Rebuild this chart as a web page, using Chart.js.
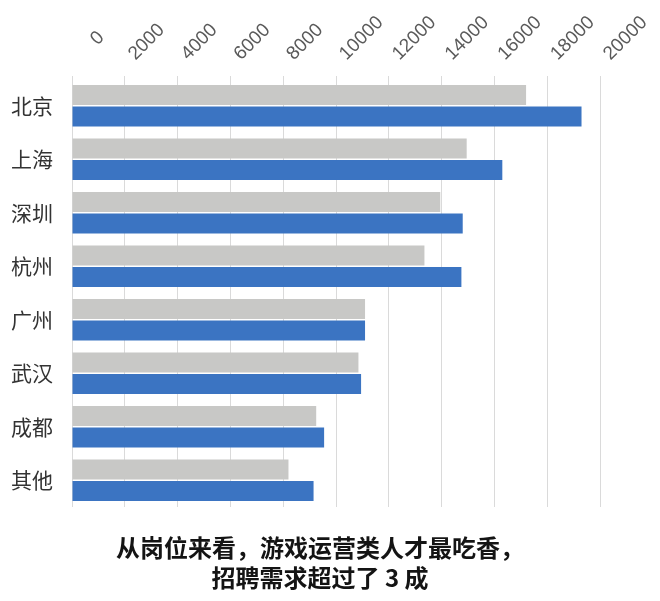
<!DOCTYPE html>
<html>
<head>
<meta charset="utf-8">
<script src="https://cdn.jsdelivr.net/npm/chart.js@4"></script>
<style>
	html, body { margin: 0; padding: 0; background: #fff; }
	#wrap { width: 660px; height: 601px; }
</style>
</head>
<body>
<div id="wrap"><canvas id="city-chart" width="660" height="601"></canvas></div>
<script>
const cities = ['北京', '上海', '深圳', '杭州', '广州', '武汉', '成都', '其他'];
const greySeries = [17200, 14950, 13950, 13350, 11100, 10850, 9250, 8200];
const blueSeries = [19300, 16300, 14800, 14750, 11100, 10950, 9550, 9150];
const tickValues = [0, 2000, 4000, 6000, 8000, 10000, 12000, 14000, 16000, 18000, 20000];
const titleLines = ['从岗位来看，游戏运营类人才最吃香，', '招聘需求超过了 3 成'];

const greyColor = '#c8c8c6';
const blueColor = '#3b74c2';
const gridColor = '#dadada';

const ctx = document.getElementById('city-chart');

new Chart(ctx, {
	type: 'bar',
	data: {
		labels: cities,
		datasets: [{
			data: greySeries,
			backgroundColor: greyColor,
			categoryPercentage: 0.8,
			barPercentage: 0.94
		}, {
			data: blueSeries,
			backgroundColor: blueColor,
			categoryPercentage: 0.8,
			barPercentage: 0.94
		}]
	},
	options: {
		indexAxis: 'y',
		responsive: false,
		devicePixelRatio: 1,
		animation: false,
		layout: {
			// right padding only shifts the title centre; the axis below reserves the rest
			padding: { left: 0, right: 20, top: 0, bottom: 0 }
		},
		plugins: {
			legend: { display: false },
			tooltip: { enabled: false },
			title: {
				display: true,
				position: 'bottom',
				text: titleLines,
				color: '#141414',
				font: { family: "'Noto Sans CJK SC'", size: 24, weight: 'bold', lineHeight: 1.25 },
				padding: { top: 26, bottom: 8 }
			}
		},
		scales: {
			x: {
				position: 'top',
				min: 0,
				max: 20000,
				afterBuildTicks: (scale) => {
					scale.ticks = tickValues.map(v => ({ value: v }));
				},
				afterFit: (scale) => {
					scale.height = 79;
					scale.paddingLeft = 0;
					scale.paddingRight = 60;
				},
				grid: {
					color: gridColor,
					lineWidth: 1,
					drawTicks: true,
					tickLength: 3
				},
				border: { display: false },
				ticks: {
					autoSkip: false,
					minRotation: 45,
					maxRotation: 45,
					padding: 11,
					labelOffset: 23,
					color: '#5a5a5a',
					font: { family: "'Liberation Sans', Arial", size: 19 },
					// pad the single zero so it sits where the wider labels centre
					callback: (value) => value === 0 ? '\u2007\u20070' : String(value)
				}
			},
			y: {
				afterFit: (scale) => {
					scale.width = 72;
				},
				grid: { display: false, drawTicks: false },
				border: { display: false },
				ticks: {
					padding: 19,
					color: '#333333',
					font: { family: "'Noto Sans CJK SC'", size: 21 }
				}
			}
		}
	}
});
</script>
</body>
</html>
